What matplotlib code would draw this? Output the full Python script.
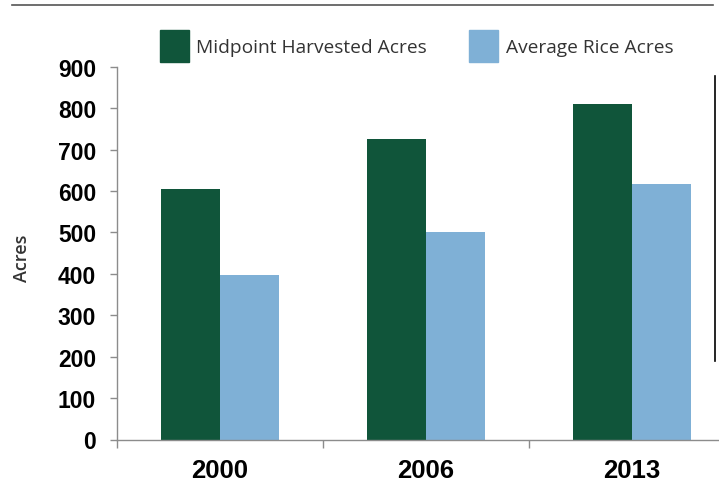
import matplotlib.pyplot as plt
import numpy as np
from matplotlib.lines import Line2D
from matplotlib.patches import Patch

years = ['2000', '2006', '2013']
midpoint_harvested = [604, 726, 811]
average_rice = [397, 501, 618]

green = '#10553a'
blue = '#7fb0d6'

W, H = 719, 485
fig = plt.figure(figsize=(W / 100, H / 100), dpi=100)

# axes placed in pixel terms of the reference
left, right, bottom, top = 117, 719, 440.5, 67.7
ax = fig.add_axes([left / W, 1 - bottom / H, (right - left) / W, (bottom - top) / H])

x = np.arange(len(years))
bw = 0.285
ax.bar(x - bw / 2, midpoint_harvested, bw, color=green, label='Midpoint Harvested Acres')
ax.bar(x + bw / 2, average_rice, bw, color=blue, label='Average Rice Acres')

ax.set_ylim(0, 900)
ax.set_xlim(-0.5, 2.5 - 16 / 206)
ax.set_yticks(range(0, 901, 100))
ax.set_xticks(x)
ax.set_xticklabels(years)
ax.set_xticks([-0.5, 0.5, 1.5], minor=True)

for s in ['top', 'right']:
    ax.spines[s].set_visible(False)
for s in ['left', 'bottom']:
    ax.spines[s].set_color('#8c8c8c')
    ax.spines[s].set_linewidth(1.0)

ax.tick_params(axis='y', length=5, width=1, color='#8c8c8c', pad=10)
ax.tick_params(axis='x', which='major', length=0, pad=13)
ax.tick_params(axis='x', which='minor', length=6, width=1, color='#8c8c8c')
for lb in ax.get_yticklabels():
    lb.set_fontfamily('Liberation Sans')
    lb.set_fontweight('bold')
    lb.set_fontsize(16.5)
for lb in ax.get_xticklabels():
    lb.set_fontfamily('Liberation Sans')
    lb.set_fontweight('bold')
    lb.set_fontsize(18.5)

fig.text(22 / W, 1 - 258 / H, 'Acres', rotation=90, ha='center', va='center',
         fontsize=13, family='Open Sans', fontweight='semibold', color='#333333')

handles = [Patch(color=green, label='Midpoint Harvested Acres'),
           Patch(color=blue, label='Average Rice Acres')]
fig.legend(handles=handles, loc='upper left', bbox_to_anchor=(160 / W, 1 - 31 / H),
           ncol=2, frameon=False, borderpad=0, borderaxespad=0,
           handlelength=1.5, handleheight=2.2, handletextpad=0.4,
           columnspacing=2.2, prop={'family': 'Open Sans', 'size': 13.8},
           labelcolor='#333333')

# rules framing the figure
fig.add_artist(Line2D([12 / W, 713 / W], [1 - 5.5 / H, 1 - 5.5 / H], color='#555555', lw=1.2))
fig.add_artist(Line2D([714.7 / W, 714.7 / W], [1 - 77 / H, 1 - 362 / H], color='black', lw=1.2))

fig.savefig('out.png', dpi=100)
